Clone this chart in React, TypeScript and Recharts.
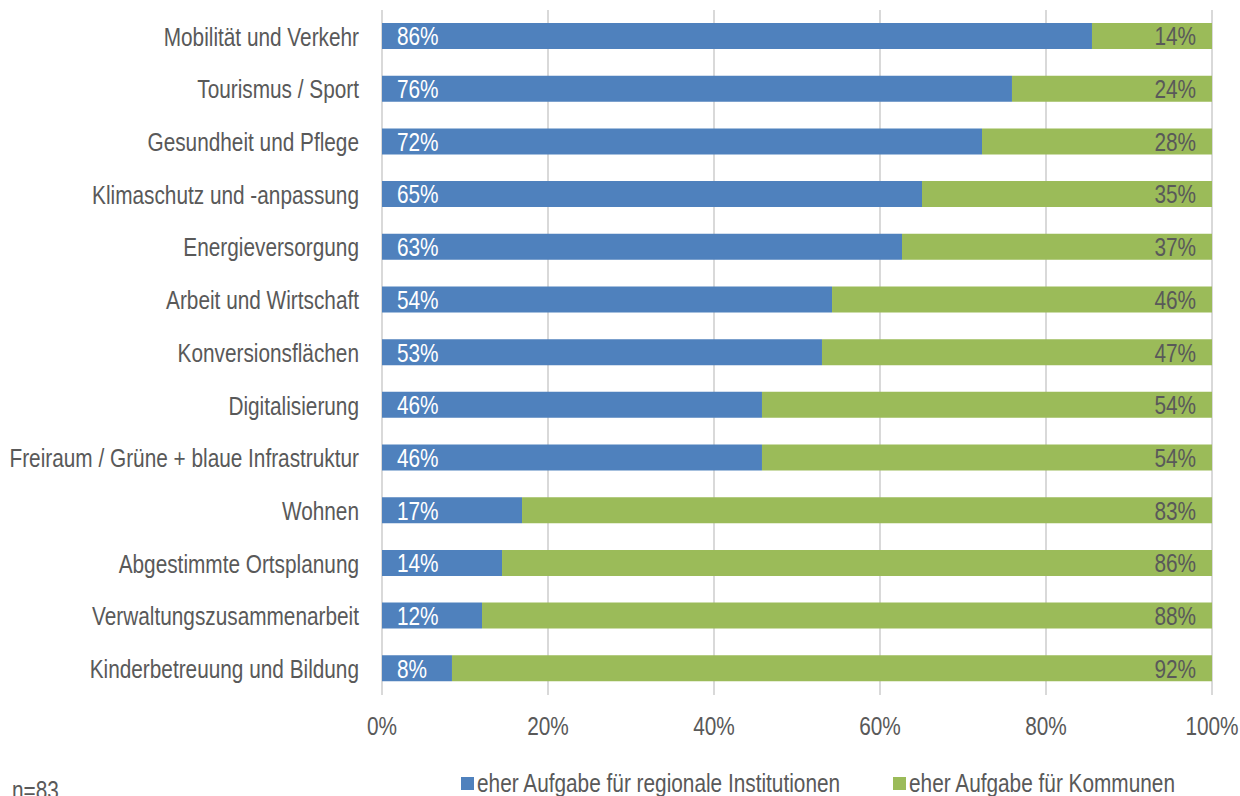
import React from 'react'
import {
  Bar,
  BarChart,
  CartesianGrid,
  LabelList,
  Legend,
  XAxis,
  YAxis
} from 'recharts'

const categories = [
  'Mobilität und Verkehr',
  'Tourismus / Sport',
  'Gesundheit und Pflege',
  'Klimaschutz und -anpassung',
  'Energieversorgung',
  'Arbeit und Wirtschaft',
  'Konversionsflächen',
  'Digitalisierung',
  'Freiraum / Grüne + blaue Infrastruktur',
  'Wohnen',
  'Abgestimmte Ortsplanung',
  'Verwaltungszusammenarbeit',
  'Kinderbetreuung und Bildung'
]

// share of answers in percent (n=83)
const regional = [
  85.54, 75.9, 72.29, 65.06, 62.65, 54.22, 53.01, 45.78, 45.78, 16.87, 14.46,
  12.05, 8.43
]
const kommunen = [
  14.46, 24.1, 27.71, 34.94, 37.35, 45.78, 46.99, 54.22, 54.22, 83.13, 85.54,
  87.95, 91.57
]

const xTicks = [0, 20, 40, 60, 80, 100]

const seriesNames = [
  'eher Aufgabe für regionale Institutionen',
  'eher Aufgabe für Kommunen'
]

const BLUE = '#4f81bd'
const GREEN = '#9bbb59'
const TEXT = '#595959'
// no Arial Narrow here, so squeeze Liberation Sans (Arial metrics) horizontally
const FONT = '"Liberation Sans", Arial, sans-serif'
const SIZE = 26
const NARROW = 0.8

const data = categories.map((name, i) => ({
  name,
  regional: regional[i],
  kommunen: kommunen[i]
}))

const pct = (v: any) => `${Math.round(Number(v))}%`

const NarrowText = ({ x, y, anchor, fill, dy, children }: any) => (
  <text
    transform={`translate(${x},${y}) scale(${NARROW},1)`}
    textAnchor={anchor}
    dy={dy}
    fill={fill}
    fontFamily={FONT}
    fontSize={SIZE}>
    {children}
  </text>
)

const CategoryTick = (props: any) => {
  const { x, y, payload } = props
  return (
    <NarrowText x={x} y={y} anchor='end' dy='0.36em' fill={TEXT}>
      {payload.value}
    </NarrowText>
  )
}

const PercentTick = (props: any) => {
  const { x, y, payload } = props
  return (
    <NarrowText x={x} y={y} anchor='middle' dy='0.71em' fill={TEXT}>
      {`${payload.value}%`}
    </NarrowText>
  )
}

const LeftLabel = (props: any) => {
  const { x, y, height, value } = props
  return (
    <NarrowText x={x + 15} y={y + height / 2} anchor='start' dy='0.36em' fill='#ffffff'>
      {pct(value)}
    </NarrowText>
  )
}

const RightLabel = (props: any) => {
  const { x, y, width, height, value } = props
  return (
    <NarrowText
      x={x + width - 16}
      y={y + height / 2}
      anchor='end'
      dy='0.36em'
      fill={TEXT}>
      {pct(value)}
    </NarrowText>
  )
}

const squeeze: React.CSSProperties = {
  display: 'inline-block',
  transform: `scaleX(${NARROW})`,
  transformOrigin: 'left center',
  whiteSpace: 'nowrap'
}

const LegendBox = () => (
  <div
    style={{
      display: 'flex',
      paddingLeft: 461,
      height: 16,
      lineHeight: '16px',
      fontFamily: FONT,
      fontSize: SIZE,
      color: TEXT
    }}>
    {seriesNames.map((s, i) => (
      <div
        key={s}
        style={{
          display: 'flex',
          alignItems: 'center',
          width: i === 0 ? 432 : 300,
          flexShrink: 0
        }}>
        <span
          style={{
            display: 'inline-block',
            width: 13,
            height: 13,
            background: i === 0 ? BLUE : GREEN,
            marginRight: 3,
            flexShrink: 0
          }}
        />
        <span style={squeeze}>{s}</span>
      </div>
    ))}
  </div>
)

const App = () => {
  return (
    <div
      style={{
        position: 'absolute',
        left: 0,
        top: 0,
        width: 1240,
        height: 796,
        overflow: 'hidden',
        background: '#fff'
      }}>
      <BarChart
        width={1240}
        height={796}
        data={data}
        layout='vertical'
        margin={{ top: 10, right: 28, bottom: 5, left: 0 }}>
        <CartesianGrid
          horizontal={false}
          stroke='#d9d9d9'
          strokeWidth={2}
        />
        <XAxis
          type='number'
          domain={[0, 100]}
          ticks={xTicks}
          axisLine={false}
          tickLine={false}
          tickSize={0}
          tickMargin={22}
          height={80}
          interval={0}
          tick={<PercentTick />}
        />
        <YAxis
          type='category'
          dataKey='name'
          width={382}
          axisLine={false}
          tickLine={false}
          tickSize={0}
          tickMargin={23}
          interval={0}
          tick={<CategoryTick />}
        />
        <Legend verticalAlign='bottom' content={<LegendBox />} />
        <Bar
          dataKey='regional'
          name={seriesNames[0]}
          stackId='a'
          fill={BLUE}
          barSize={26}
          isAnimationActive={false}>
          <LabelList dataKey='regional' content={<LeftLabel />} />
        </Bar>
        <Bar
          dataKey='kommunen'
          name={seriesNames[1]}
          stackId='a'
          fill={GREEN}
          barSize={26}
          isAnimationActive={false}>
          <LabelList dataKey='kommunen' content={<RightLabel />} />
        </Bar>
      </BarChart>
      <div
        style={{
          position: 'absolute',
          left: 12,
          top: 777,
          fontFamily: FONT,
          fontSize: SIZE,
          lineHeight: 1,
          color: TEXT,
          ...squeeze
        }}>
        n=83
      </div>
    </div>
  )
}

export default App
